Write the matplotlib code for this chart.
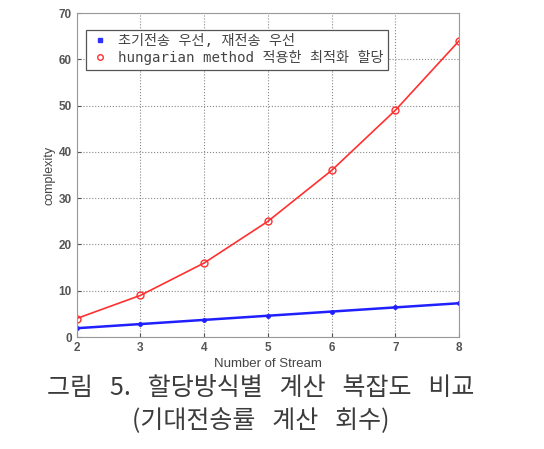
import matplotlib
matplotlib.use('Agg')
import matplotlib.pyplot as plt
from matplotlib.lines import Line2D

plt.rcParams['font.family'] = ['Noto Sans CJK KR', 'DejaVu Sans']

streams = [2, 3, 4, 5, 6, 7, 8]
priority = [1.9, 2.8, 3.7, 4.6, 5.5, 6.4, 7.3]
hungarian = [4, 9, 16, 25, 36, 49, 64]
labels = ['초기전송 우선, 재전송 우선', 'hungarian method 적용한 최적화 할당']
caption = ['그림   5.   할당방식별   계산   복잡도   비교', '(기대전송률   계산   회수)']

fig = plt.figure(figsize=(5.44, 4.49), dpi=100)
ax = fig.add_axes([0.141, 0.2494, 0.703, 0.7216])

ax.plot(streams, priority, color='#2020ff', marker='.', markersize=5, linewidth=1.8)
ax.plot(streams, hungarian, color='#ff3030', marker='o', markersize=5,
        markerfacecolor='none', linewidth=1.2)

ax.set_xlim(2, 8)
ax.set_ylim(0, 70)
ax.set_xticks(streams)
ax.set_yticks(range(0, 71, 10))
ax.grid(True, linestyle=':', color='#888888', linewidth=0.8)
ax.tick_params(labelsize=8.5, colors='#555555', direction='in', length=3)
for lab in ax.get_xticklabels() + ax.get_yticklabels():
    lab.set_family(['Liberation Sans', 'DejaVu Sans'])
    lab.set_fontweight('bold')
for s in ax.spines.values():
    s.set_color('#999999')

ax.set_xlabel('Number of Stream', fontsize=9.5, color='#444444',
              family=['Liberation Sans', 'DejaVu Sans'], labelpad=3)
ax.set_ylabel('complexity', fontsize=9, color='#444444',
              family=['Liberation Sans', 'DejaVu Sans'], labelpad=2)

handles = [
    Line2D([], [], color='#3030ff', marker='s', markersize=2.5, linestyle='none'),
    Line2D([], [], color='#ff3030', marker='o', markersize=4,
           markerfacecolor='none', linestyle='none'),
]
leg = ax.legend(handles, labels, loc='upper left', bbox_to_anchor=(0.024, 0.948),
                borderaxespad=0,
                prop={'family': ['DejaVu Sans Mono', 'Noto Sans CJK KR'], 'size': 10.2},
                frameon=True, fancybox=False, edgecolor='#555555', framealpha=1,
                handlelength=1.4, handletextpad=0.6, borderpad=0.3, labelspacing=0.15)
leg.get_frame().set_linewidth(0.9)
for t in leg.get_texts():
    t.set_color('#444444')

fig.text(0.48, 0.136, caption[0], ha='center', va='center', fontsize=18, color='#3c3c3c')
fig.text(0.479, 0.062, caption[1], ha='center', va='center', fontsize=18, color='#3c3c3c')

fig.savefig('out.png', dpi=100)
